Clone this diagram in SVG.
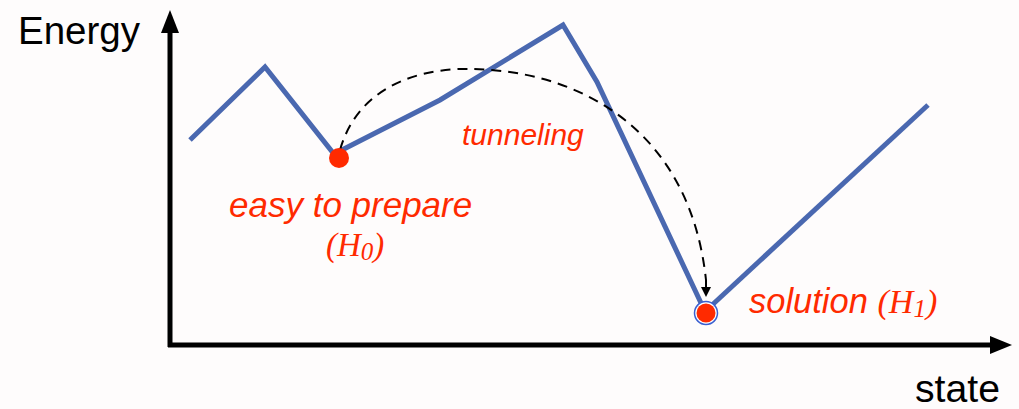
<svg xmlns="http://www.w3.org/2000/svg" width="1019" height="409" viewBox="0 0 1019 409">
<defs>
<style>
.lbl{font-family:"Liberation Sans",Arial,sans-serif;fill:#000}
.red{font-family:"Liberation Sans",Arial,sans-serif;font-style:italic;fill:#ff2a00}
.h{font-family:"Liberation Serif","Times New Roman",serif;font-style:italic;fill:#ff2a00}
.axis{stroke:#000;stroke-width:5;fill:none}
.curve{stroke:#4a68b0;stroke-width:5;fill:none;stroke-linejoin:miter}
</style>
</defs>
<rect width="1019" height="409" fill="#fefcfc"/>
<g id="axes">
<line class="axis" x1="170" y1="347" x2="170" y2="30"/>
<polygon points="161,33 179,33 170,10" fill="#000"/>
<line class="axis" x1="168" y1="345" x2="993" y2="345"/>
<polygon points="990,336 990,354 1012,345" fill="#000"/>
</g>
<g id="landscape">
<polyline class="curve" points="190,140 265,67 334,154 440,100 563,25 597,82 701,303"/>
<line class="curve" x1="711" y1="306" x2="928" y2="105"/>
</g>
<g id="connectors">
<path d="M340,150 C360,80 430,68 470,69 C580,70 690,130 706,280" fill="none" stroke="#000" stroke-width="2" stroke-dasharray="10,7"/>
<path d="M706,280 L706,290" stroke="#000" stroke-width="2"/>
<polygon points="701,287 711,287 706,297" fill="#000"/>
</g>
<g id="start">
<circle cx="339" cy="158" r="10" fill="#ff2a00"/>
</g>
<g id="solution">
<circle cx="706" cy="313" r="11.5" fill="#fff" stroke="#3a5fd0" stroke-width="1.5"/>
<circle cx="706" cy="313" r="9.5" fill="#ff2a00"/>
</g>
<text class="lbl" x="18" y="44" font-size="38" textLength="122" lengthAdjust="spacingAndGlyphs">Energy</text>
<text class="lbl" x="915" y="402" font-size="38" textLength="85" lengthAdjust="spacingAndGlyphs">state</text>
<text class="red" x="462" y="145" font-size="30">tunneling</text>
<text class="red" x="229" y="217" font-size="35">easy to prepare</text>
<text class="h" x="326" y="256" font-size="33">(H<tspan font-size="25" dy="4">0</tspan><tspan dy="-4">)</tspan></text>
<text class="red" x="749" y="313" font-size="34.5">solution <tspan class="h" font-size="34">(H<tspan font-size="25" dy="4">1</tspan><tspan dy="-4">)</tspan></tspan></text>
</svg>
